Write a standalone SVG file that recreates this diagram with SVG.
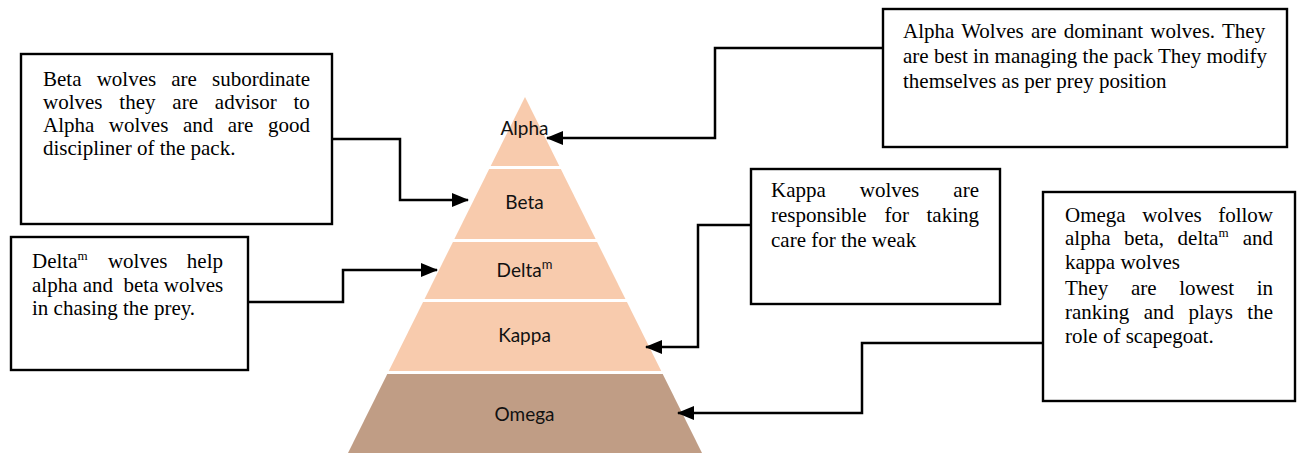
<svg xmlns="http://www.w3.org/2000/svg" width="1306" height="453" viewBox="0 0 1306 453">
<defs>
<marker id="arr" markerWidth="17" markerHeight="14" refX="16" refY="7" orient="auto" markerUnits="userSpaceOnUse">
<path d="M0,0 L17,7 L0,14 Z" fill="#000"/>
</marker>
<style>
.box{fill:#fff;stroke:#000;stroke-width:2.4}
.t{font-family:"Liberation Serif","Times New Roman",serif;font-size:21px;fill:#000}
.sup{font-size:13px}
.lab{font-family:Lato,"Open Sans",sans-serif;font-size:19px;fill:#111;text-anchor:middle}
.band{fill:#F8CBAD}
.conn{fill:none;stroke:#000;stroke-width:2.5;marker-end:url(#arr)}
</style>
</defs>
<rect width="1306" height="453" fill="#fff"/>

<g id="pyramid">
<polygon class="band" points="525,97 559.31,166 490.69,166"/>
<polygon class="band" points="489.2,169 560.8,169 595.6,239 454.4,239"/>
<polygon class="band" points="452.91,242 597.09,242 625.43,299 424.57,299"/>
<polygon class="band" points="423.07,302 626.93,302 661.23,371 388.77,371"/>
<polygon points="387.28,374 662.72,374 702,453 348,453" fill="#C09D85"/>
<text class="lab" x="524.5" y="135">Alpha</text>
<text class="lab" x="524.5" y="209">Beta</text>
<text class="lab" x="524.5" y="277">Delta<tspan class="sup" dy="-8" font-size="13">m</tspan></text>
<text class="lab" x="524.5" y="342">Kappa</text>
<text class="lab" x="524.5" y="421">Omega</text>
</g>

<g id="alpha-box">
<rect class="box" x="883" y="9" width="404" height="138"/>
<text class="t" x="903" y="38" word-spacing="2">Alpha Wolves are dominant wolves. They</text>
<text class="t" x="903" y="63">are best in managing the pack They modify</text>
<text class="t" x="903" y="88">themselves as per prey position</text>
</g>

<g id="beta-box">
<rect class="box" x="21" y="54" width="311" height="170"/>
<text class="t" x="43" y="86" word-spacing="9.9">Beta wolves are subordinate</text>
<text class="t" x="43" y="109" word-spacing="11.6">wolves they are advisor to</text>
<text class="t" x="43" y="132" word-spacing="9.3">Alpha wolves and are good</text>
<text class="t" x="43" y="155">discipliner of the pack.</text>
</g>

<g id="delta-box">
<rect class="box" x="11" y="237" width="237" height="133"/>
<text class="t" y="268"><tspan x="32">Delta</tspan><tspan class="sup" x="77.5" y="260">m</tspan><tspan x="107.9" y="268">wolves</tspan><tspan x="223" text-anchor="end">help</tspan></text>
<text class="t" x="32" y="292" xml:space="preserve">alpha and  beta wolves</text>
<text class="t" x="32" y="315">in chasing the prey.</text>
</g>

<g id="kappa-box">
<rect class="box" x="751" y="169" width="249" height="135"/>
<text class="t" y="197"><tspan x="771">Kappa</tspan><tspan x="859.8">wolves</tspan><tspan x="979" text-anchor="end">are</tspan></text>
<text class="t" y="222"><tspan x="771">responsible</tspan><tspan x="884.4">for</tspan><tspan x="979" text-anchor="end">taking</tspan></text>
<text class="t" x="771" y="247">care for the weak</text>
</g>

<g id="omega-box">
<rect class="box" x="1043" y="192" width="252" height="209"/>
<text class="t" y="222"><tspan x="1065">Omega</tspan><tspan x="1142.2">wolves</tspan><tspan x="1273" text-anchor="end">follow</tspan></text>
<text class="t" y="245"><tspan x="1065">alpha</tspan><tspan x="1123.9">beta,</tspan><tspan x="1177.6">delta</tspan><tspan class="sup" x="1218.4" y="237">m</tspan><tspan x="1273" y="245" text-anchor="end">and</tspan></text>
<text class="t" x="1065" y="269">kappa wolves</text>
<text class="t" y="295"><tspan x="1065">They</tspan><tspan x="1130.9">are</tspan><tspan x="1179.2">lowest</tspan><tspan x="1273" text-anchor="end">in</tspan></text>
<text class="t" y="319"><tspan x="1065">ranking</tspan><tspan x="1143.7">and</tspan><tspan x="1188.5">plays</tspan><tspan x="1273" text-anchor="end">the</tspan></text>
<text class="t" x="1065" y="343">role of scapegoat.</text>
</g>

<g id="connectors">
<path class="conn" d="M883,48 H715 V138 H547"/>
<path class="conn" d="M332,139 H400 V200 H468"/>
<path class="conn" d="M248,302 H343 V270 H437"/>
<path class="conn" d="M751,225 H698 V347 H646"/>
<path class="conn" d="M1043,343 H862 V413 H678"/>
</g>
</svg>
